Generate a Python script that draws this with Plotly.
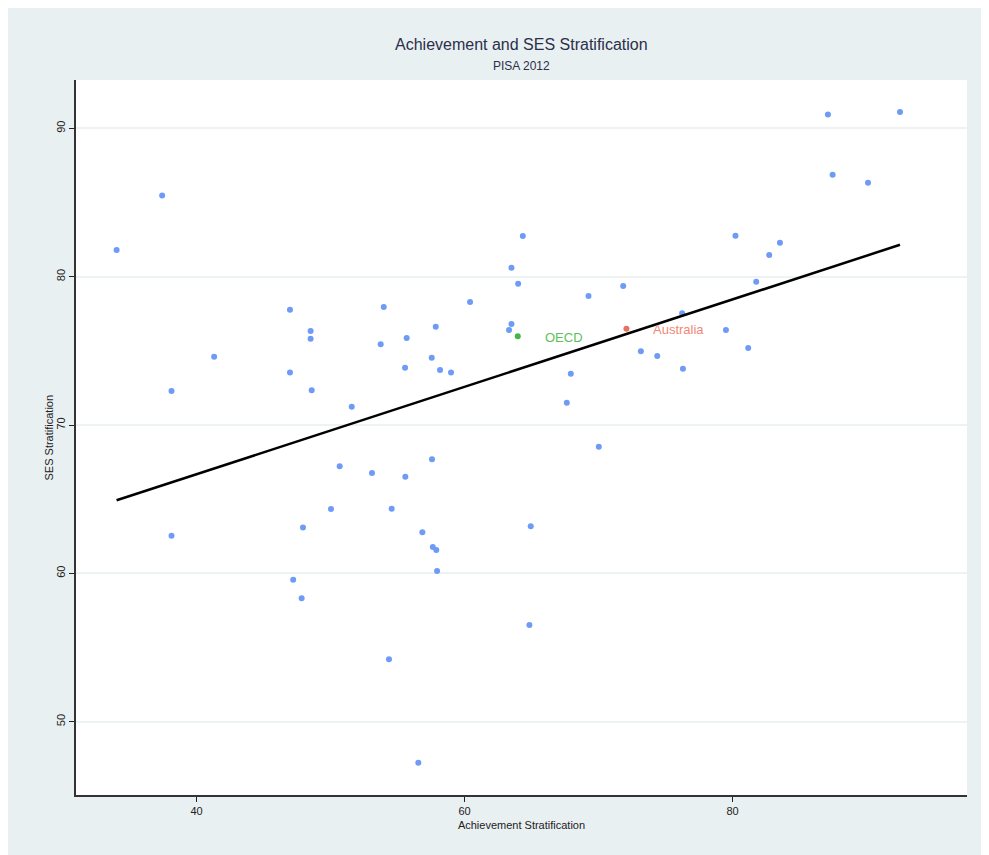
import numpy as np
import plotly.graph_objects as go

# Country points (Achievement Stratification, SES Stratification)
ach = [34.03, 37.43, 38.13, 41.31, 38.13, 46.97, 48.51, 48.51, 46.97, 48.59,
       47.21, 47.84, 47.94, 50.03, 51.58, 50.68, 53.09, 53.97, 53.74, 54.36,
       54.56, 55.68, 55.56, 55.58, 56.55, 57.55, 57.57, 57.85, 58.17, 58.99,
       56.85, 57.63, 57.89, 57.95, 60.41, 63.32, 63.50, 63.50, 64.00, 64.35,
       64.84, 64.94, 67.63, 67.93, 69.25, 70.02, 71.84, 73.16, 74.38, 76.24,
       76.30, 79.51, 80.22, 81.17, 81.77, 82.74, 83.54, 87.12, 87.47, 90.11,
       92.50]
ses = [81.80, 85.48, 72.29, 74.60, 62.54, 77.77, 76.34, 75.82, 73.55, 72.34,
       59.57, 58.32, 63.10, 64.34, 71.23, 67.22, 66.76, 77.95, 75.44, 54.21,
       64.36, 75.86, 73.86, 66.51, 47.24, 74.54, 67.69, 76.63, 73.71, 73.55,
       62.77, 61.78, 61.57, 60.16, 78.29, 76.40, 80.60, 76.81, 79.52, 82.74,
       56.52, 63.17, 71.50, 73.46, 78.70, 68.54, 79.37, 74.97, 74.65, 77.53,
       73.80, 76.40, 82.76, 75.19, 79.66, 81.46, 82.29, 90.94, 86.87, 86.33,
       91.10]

oecd_x, oecd_y = [63.97], [75.98]
aus_x, aus_y = [72.08], [76.49]

x_ticks = [40, 60, 80]
y_ticks = [50, 60, 70, 80, 90]

# linear fit
slope, intercept = np.polyfit(ach, ses, 1)
fit_x = np.array([min(ach), max(ach)])
fit_y = slope * fit_x + intercept

BLUE = "#6e9bf5"
GREEN = "#45b548"
RED = "#e8705f"
BG = "#e9f0f2"
FONT = "Liberation Sans, Arial, sans-serif"

W, H = 989, 855
ML, MR, MT, MB = 68, 30, 72, 68
plot_h = H - MT - MB
plot_w = W - ML - MR

def fy(ypix):
    # figure pixel (from top) -> paper coordinate
    return (H - MB - ypix) / plot_h

def fx(xpix):
    return (xpix - ML) / plot_w

fig = go.Figure()
fig.add_trace(go.Scatter(x=ach, y=ses, mode="markers",
                         marker=dict(color=BLUE, size=6), showlegend=False))
fig.add_trace(go.Scatter(x=oecd_x, y=oecd_y, mode="markers",
                         marker=dict(color=GREEN, size=6), showlegend=False))
fig.add_trace(go.Scatter(x=aus_x, y=aus_y, mode="markers",
                         marker=dict(color=RED, size=6), showlegend=False))
fig.add_trace(go.Scatter(x=fit_x, y=fit_y, mode="lines",
                         line=dict(color="black", width=2.5), showlegend=False))

fig.add_annotation(x=oecd_x[0], y=oecd_y[0], text="OECD", showarrow=False,
                   xanchor="left", xshift=25, yshift=-1,
                   font=dict(color="#5cbf5c", size=13, family=FONT))
fig.add_annotation(x=aus_x[0], y=aus_y[0], text="Australia", showarrow=False,
                   xanchor="left", xshift=25, yshift=-1,
                   font=dict(color="#f08878", size=13, family=FONT))

fig.add_annotation(x=0.5, y=fy(37), xref="paper", yref="paper",
                   text="Achievement and SES Stratification", showarrow=False,
                   yanchor="middle", font=dict(size=16, color="#2b2f4a", family=FONT))
fig.add_annotation(x=0.5, y=fy(58), xref="paper", yref="paper",
                   text="PISA 2012", showarrow=False,
                   yanchor="middle", font=dict(size=12, color="#2b2f4a", family=FONT))
# y-axis title
fig.add_annotation(x=fx(40), y=0.5, xref="paper", yref="paper",
                   text="SES Stratification", showarrow=False, textangle=-90,
                   xanchor="center", yanchor="middle",
                   font=dict(size=11, color="#222222", family=FONT))

# full-size background panel and white plot area
fig.add_shape(type="rect", xref="paper", yref="paper",
              x0=fx(0), x1=fx(W + 20), y0=fy(H + 20), y1=fy(0),
              fillcolor=BG, line=dict(width=0), layer="below")
fig.add_shape(type="rect", xref="paper", yref="paper",
              x0=0, x1=1, y0=0, y1=1,
              fillcolor="white", line=dict(width=0), layer="below")

fig.update_layout(
    width=W, height=H,
    margin=dict(l=ML, r=MR, t=MT, b=MB),
    paper_bgcolor=BG,
    plot_bgcolor="white",
    font=dict(family=FONT, size=11, color="#222222"),
    showlegend=False,
)

fig.update_xaxes(range=[31.0, 97.5], tickvals=x_ticks, ticks="outside", ticklen=5,
                 tickcolor="#222", showline=True, linecolor="#333", linewidth=1.5,
                 showgrid=False, zeroline=False,
                 title=dict(text="Achievement Stratification", font=dict(size=11), standoff=5),
                 tickfont=dict(size=11))
fig.update_yaxes(range=[45.06, 93.26], tickvals=y_ticks, ticks="outside", ticklen=5,
                 tickcolor="#222", showline=True, linecolor="#333", linewidth=1.5,
                 showgrid=True, gridcolor="#edf3f3", gridwidth=1.5, zeroline=False,
                 tickangle=-90, tickfont=dict(size=11))

fig.write_html("out.html")
